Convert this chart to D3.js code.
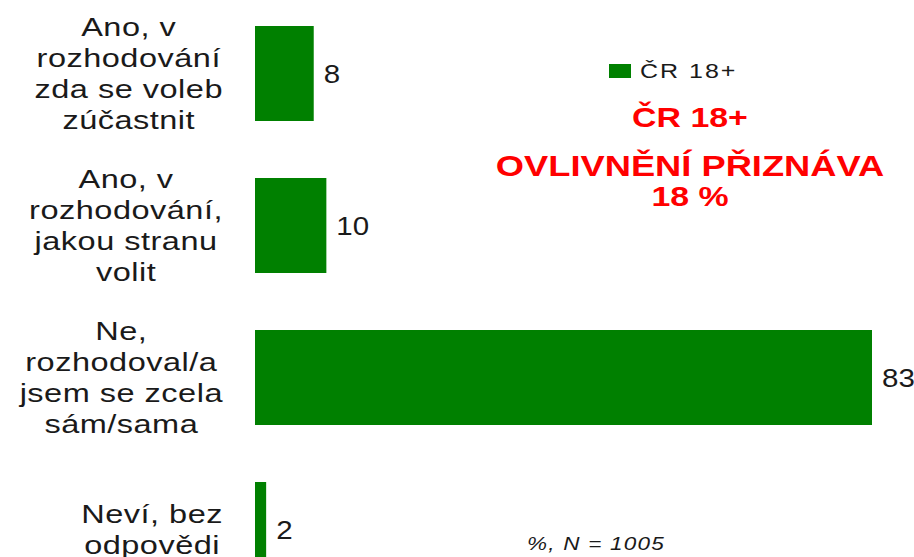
<!DOCTYPE html>
<html>
<head>
<meta charset="utf-8">
<script src="https://cdn.jsdelivr.net/npm/d3@7"></script>
<style>
  body { margin: 0; background: #fff; overflow: hidden; }
  text { font-family: "Liberation Sans", Arial, sans-serif; fill: #1a1a1a; }
</style>
</head>
<body>
<div id="chart"></div>
<script>
// data
var categories = [
  ["Ano, v", "rozhodování", "zda se voleb", "zúčastnit"],
  ["Ano, v", "rozhodování,", "jakou stranu", "volit"],
  ["Ne,", "rozhodoval/a", "jsem se zcela", "sám/sama"],
  ["Neví, bez", "odpovědi"]
];
var values = [7.9, 9.6, 83, 1.5];
var valueLabels = ["8", "10", "83", "2"];
var seriesName = "ČR 18+";
var titleLines = ["ČR 18+", "OVLIVNĚNÍ PŘIZNÁVA", "18 %"];
var note = "%, N = 1005";

var width = 914,
    height = 557,
    sx = 1.25,          // the source text is stretched sideways
    green = "#008000",
    red = "#ff0000";

var svg = d3.select("#chart")
  .append("svg")
  .attr("width", width)
  .attr("height", height);

var x = d3.scaleLinear()
  .domain([0, 83])
  .range([255, 872]);

var y = d3.scaleBand()
  .domain(d3.range(categories.length))
  .range([26, 577])
  .paddingInner(0.375)
  .paddingOuter(0);

// bars
svg.selectAll(".bar")
  .data(values)
  .enter().append("rect")
  .attr("class", "bar")
  .attr("x", x(0))
  .attr("y", (d, i) => y(i))
  .attr("width", d => x(d) - x(0))
  .attr("height", y.bandwidth())
  .attr("fill", green);

// value labels
svg.selectAll(".val")
  .data(values)
  .enter().append("text")
  .attr("class", "val")
  .attr("transform", (d, i) => "translate(" + (x(d) + 10) + "," + (y(i) + y.bandwidth() / 2 + 9) + ") scale(1.18,1)")
  .style("font-size", "25px")
  .text((d, i) => valueLabels[i]);

// category labels: each block centred on itself, block right edge at ~222
var lineH = 31;
categories.forEach(function(lines, i) {
  var cy = y(i) + y.bandwidth() / 2;
  var g = svg.append("g");
  var texts = g.selectAll("text")
    .data(lines)
    .enter().append("text")
    .style("font-size", "26px")
    .style("letter-spacing", "0.4px")
    .attr("text-anchor", "middle")
    .text(d => d);
  var maxW = d3.max(texts.nodes(), n => n.getComputedTextLength()) * sx;
  var cx = 223 - maxW / 2;
  texts.attr("transform", function(d, j) {
    var ly = cy + (j - (lines.length - 1) / 2) * lineH + 9;
    return "translate(" + cx + "," + ly + ") scale(" + sx + ",1)";
  });
});

// legend
svg.append("rect")
  .attr("x", 609).attr("y", 64)
  .attr("width", 22).attr("height", 14)
  .attr("fill", green);
svg.append("text")
  .attr("transform", "translate(640,78) scale(" + sx + ",1)")
  .style("font-size", "20px")
  .style("letter-spacing", "1.6px")
  .text(seriesName);

// red annotation
var titleY = [127, 176, 206];
svg.selectAll(".title")
  .data(titleLines)
  .enter().append("text")
  .attr("class", "title")
  .attr("text-anchor", "middle")
  .attr("transform", (d, i) => "translate(690," + titleY[i] + ") scale(1.21,1)")
  .style("font-size", (d, i) => i == 1 ? "30px" : "28px")
  .style("font-weight", "bold")
  .style("fill", red)
  .text(d => d);

// footnote
svg.append("text")
  .attr("transform", "translate(527,550) scale(" + sx + ",1)")
  .style("font-size", "18px")
  .style("font-style", "italic")
  .style("letter-spacing", "1px")
  .text(note);
</script>
</body>
</html>
